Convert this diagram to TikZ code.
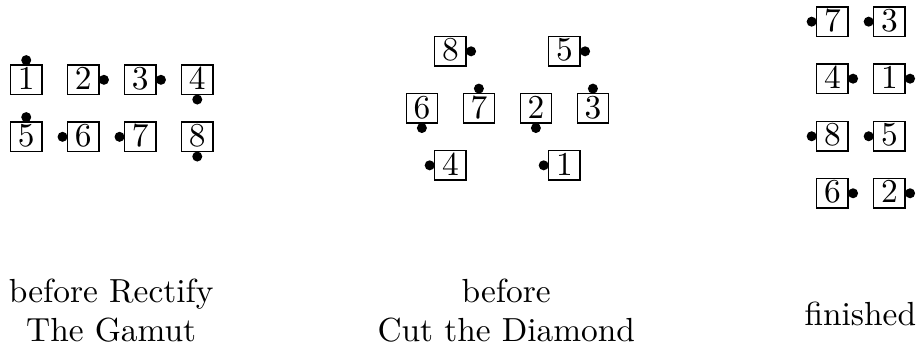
\documentclass[tikz,border=0pt]{standalone}
\usetikzlibrary{positioning}

\begin{document}
\begin{tikzpicture}[x=0.6cm,y=-0.6cm,node distance=-0.2pt]
			\tikzstyle{tile}=[rectangle,draw,inner xsep=2.2pt,inner ysep=0.8pt,text height=6.5pt,text depth=0.7pt]
			\tikzstyle{bead}=[circle,fill,inner sep=0pt,outer sep=0pt,minimum size=3pt]
			\tikzstyle{caption}=[align=center,font=\fontsize{10}{11.5}\selectfont]
			
			\useasboundingbox (0,0) rectangle (16.19,6.25);
			
			\node[tile] (r1) at (0.46,1.4) {1};
			\node[tile] (r2) at (1.46,1.4) {2};
			\node[tile] (r3) at (2.46,1.4) {3};
			\node[tile] (r4) at (3.46,1.4) {4};
			\node[tile] (r5) at (0.46,2.4) {5};
			\node[tile] (r6) at (1.46,2.4) {6};
			\node[tile] (r7) at (2.46,2.4) {7};
			\node[tile] (r8) at (3.46,2.4) {8};
			
			\node[bead, above=of r1] (r1b) {};
			\node[bead, right=of r2] (r2b) {};
			\node[bead, right=of r3] (r3b) {};
			\node[bead, below=of r4] (r4b) {};
			\node[bead, above=of r5] (r5b) {};
			\node[bead, left=of r6] (r6b) {};
			\node[bead, left=of r7] (r7b) {};
			\node[bead, below=of r8] (r8b) {};
			
			\node[tile] (c8) at (7.9,0.9) {8};
			\node[tile] (c5) at (9.9,0.9) {5};
			\node[tile] (c6) at (7.4,1.9) {6};
			\node[tile] (c7) at (8.4,1.9) {7};
			\node[tile] (c2) at (9.4,1.9) {2};
			\node[tile] (c3) at (10.4,1.9) {3};
			\node[tile] (c4) at (7.9,2.9) {4};
			\node[tile] (c1) at (9.9,2.9) {1};
			
			\node[bead, right=of c8] (c8b) {};
			\node[bead, right=of c5] (c5b) {};
			\node[bead, below=of c6] (c6b) {};
			\node[bead, above=of c7] (c7b) {};
			\node[bead, below=of c2] (c2b) {};
			\node[bead, above=of c3] (c3b) {};
			\node[bead, left=of c4] (c4b) {};
			\node[bead, left=of c1] (c1b) {};
			
			\node[tile] (f7) at (14.6,0.38) {7};
			\node[tile] (f3) at (15.6,0.38) {3};
			\node[tile] (f4) at (14.6,1.38) {4};
			\node[tile] (f1) at (15.6,1.38) {1};
			\node[tile] (f8) at (14.6,2.39) {8};
			\node[tile] (f5) at (15.6,2.39) {5};
			\node[tile] (f6) at (14.6,3.39) {6};
			\node[tile] (f2) at (15.6,3.39) {2};
			
			\node[bead, left=of f7] (f7b) {};
			\node[bead, left=of f3] (f3b) {};
			\node[bead, right=of f4] (f4b) {};
			\node[bead, right=of f1] (f1b) {};
			\node[bead, left=of f8] (f8b) {};
			\node[bead, left=of f5] (f5b) {};
			\node[bead, right=of f6] (f6b) {};
			\node[bead, right=of f2] (f2b) {};
			
			\node[caption] (rcap) at (1.95,5.45) {before Rectify\\The Gamut};
			\node[caption] (ccap) at (8.88,5.45) {before\\Cut the Diamond};
			\node[caption] (fcap) at (15.09,5.5) {finished};
		\end{tikzpicture}
\end{document}
